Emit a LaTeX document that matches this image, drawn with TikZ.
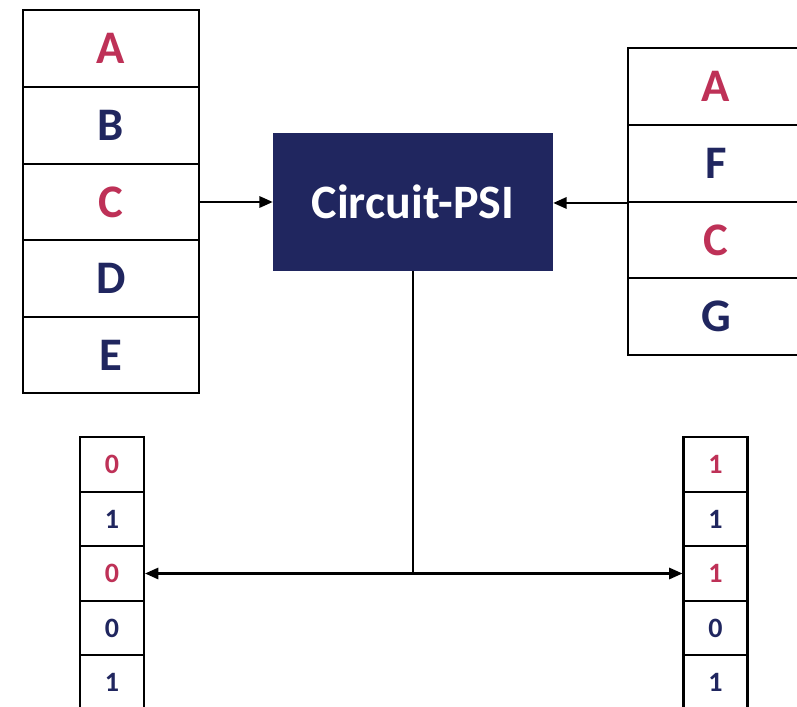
\documentclass[tikz,border=0pt]{standalone}
\usepackage{fontspec}
\setmainfont{Carlito}
\usetikzlibrary{arrows.meta}

\definecolor{psiNavy}{HTML}{20265F}
\definecolor{psiRed}{HTML}{BE3157}

\begin{document}
\begin{tikzpicture}[
    x=0.75pt, y=-0.75pt,
    every node/.style={font=\bfseries, text=psiNavy},
    cell/.style={draw=black, line width=1.8pt, fill=white,
                 minimum width=132pt, minimum height=57.4pt,
                 inner sep=0pt, font=\fontsize{35}{40}\selectfont\bfseries},
    bit/.style={draw=black, line width=1.6pt, fill=white,
                minimum width=48pt, minimum height=40.9pt,
                inner sep=0pt, font=\fontsize{21}{24}\selectfont\bfseries},
    hit/.style={text=psiRed},
    link/.style={line width=1.6pt, -{Triangle[length=10pt, width=8.5pt]}}
  ]
  % Canvas
  \useasboundingbox (0,0) rectangle (797,707);

  % Left set
  \node[cell, hit] (lA) at (111,48.5)  {A};
  \node[cell]      (lB) at (111,125.5) {B};
  \node[cell, hit] (lC) at (111,202)   {C};
  \node[cell]      (lD) at (111,278.5) {D};
  \node[cell]      (lE) at (111,355)   {E};

  % Right set
  \node[cell, hit] (rA) at (716,86.5)  {A};
  \node[cell]      (rF) at (716,163.5) {F};
  \node[cell, hit] (rC) at (716,240)   {C};
  \node[cell]      (rG) at (716,316.5) {G};

  % Protocol
  \node[fill=psiNavy, text=white, minimum width=210pt, minimum height=103.5pt,
        font=\fontsize{36}{40}\selectfont\bfseries] (psi) at (413,202)
    {Circuit-PSI};

  % Left output bits
  \node[bit, hit] (lb1) at (112,464.5) {0};
  \node[bit]      (lb2) at (112,519)   {1};
  \node[bit, hit] (lb3) at (112,573.5) {0};
  \node[bit]      (lb4) at (112,628)   {0};
  \node[bit]      (lb5) at (112,682.5) {1};

  % Right output bits
  \node[bit, hit] (rb1) at (715.5,464.5) {1};
  \node[bit]      (rb2) at (715.5,519)   {1};
  \node[bit, hit] (rb3) at (715.5,573.5) {1};
  \node[bit]      (rb4) at (715.5,628)   {0};
  \node[bit]      (rb5) at (715.5,682.5) {1};

  % Inputs
  \draw[link] (lC.east) -- (lC.east -| psi.west);
  \draw[link] (rF.south west) -- (rF.south west -| psi.east);

  % Outputs
  \coordinate (split) at (psi.south |- lb3.east);
  \draw[line width=1.6pt] (psi.south) -- (split);
  \draw[link] (split) -- (lb3.east);
  \draw[link] (split) -- (rb3.west);
\end{tikzpicture}
\end{document}
